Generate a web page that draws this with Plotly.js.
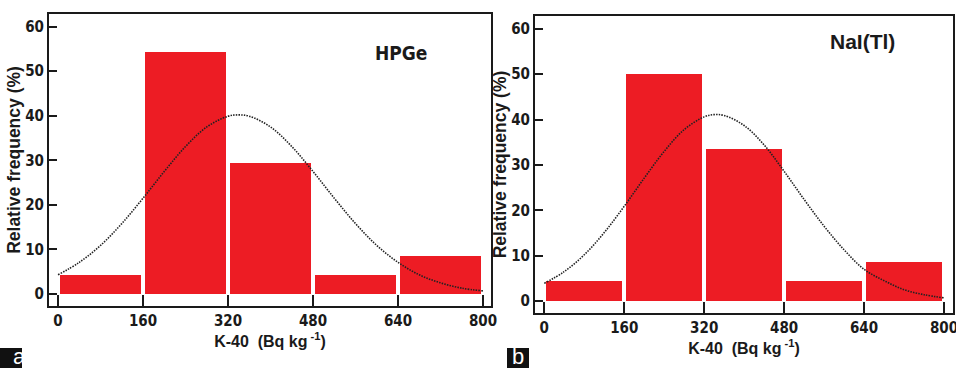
<!DOCTYPE html>
<html><head><meta charset="utf-8">
<script src="https://cdn.plot.ly/plotly-3.0.1.min.js"></script>
<style>html,body{margin:0;padding:0;background:#fff}#chart{width:956px;height:368px}</style>
</head><body><div id="chart"></div>
<script>
// Data
const binCenters = [80, 240, 400, 560, 720];
const hpgeFreq = [4.3, 54.4, 29.4, 4.3, 8.5];
const naiFreq = [4.4, 50.1, 33.5, 4.4, 8.5];
const curveX = [0, 40, 80, 120, 160, 200, 240, 280, 320, 340, 360, 400, 440, 480, 520, 560, 600, 640, 680, 720, 760, 800];
const hpgeCurve = [4.3, 7.1, 10.9, 15.8, 21.5, 27.5, 33.1, 37.5, 39.9, 40.2, 39.9, 37.5, 33.1, 27.5, 21.5, 15.8, 10.9, 7.1, 4.3, 2.5, 1.3, 0.7];
const naiCurve = [3.9, 6.5, 10.2, 15.1, 20.9, 27.1, 33.0, 37.8, 40.6, 41.1, 40.9, 38.7, 34.4, 28.6, 22.4, 16.5, 11.3, 7.0, 4.5, 2.5, 1.4, 0.7];
const xTicks = [0, 160, 320, 480, 640, 800];
const yTicks = [0, 10, 20, 30, 40, 50, 60];
const panelNames = ['HPGe', 'NaI(Tl)'];
const xTitle = 'K-40  (Bq kg<sup> -1</sup>)';
const yTitle = 'Relative frequency (%)';

const W = 956, H = 368;
const RED = '#ED1C24';
const narrow = '"DejaVu Sans Condensed", "Liberation Sans Narrow", "Liberation Sans", Arial, sans-serif';
const sans = '"Liberation Sans", Arial, sans-serif';

function barTrace(y, xa, ya) {
  return {type: 'bar', x: binCenters, y: y, width: 152, xaxis: xa, yaxis: ya,
    marker: {color: RED, line: {width: 0}}, hoverinfo: 'skip', showlegend: false};
}
function curveTrace(y, xa, ya) {
  return {type: 'scatter', mode: 'lines', x: curveX, y: y, xaxis: xa, yaxis: ya,
    line: {color: '#222', width: 1.6, dash: '1.5px,1.2px', shape: 'spline'}, hoverinfo: 'skip', showlegend: false};
}
const data = [
  barTrace(hpgeFreq, 'x', 'y'), curveTrace(hpgeCurve, 'x', 'y'),
  barTrace(naiFreq, 'x2', 'y2'), curveTrace(naiCurve, 'x2', 'y2')
];

function xax(d0, d1, range, anchor) {
  return {domain: [d0 / W, d1 / W], range: range, anchor: anchor,
    tickmode: 'array', tickvals: xTicks, ticktext: xTicks.map(String),
    ticks: 'inside', ticklen: 11, tickwidth: 2, tickcolor: '#1a1a1a',
    showline: true, linewidth: 2, linecolor: '#1a1a1a', mirror: true,
    showgrid: false, zeroline: false, ticklabeloverflow: 'allow',
    tickfont: {family: narrow, size: 15, color: '#1a1a1a', weight: 'bold'},
    title: {text: xTitle, font: {family: sans, size: 16, color: '#1a1a1a', weight: 'bold'}, standoff: 3},
    fixedrange: true};
}
function yax(top, bottom, range, anchor) {
  return {domain: [1 - bottom / H, 1 - top / H], range: range, anchor: anchor,
    tickmode: 'array', tickvals: yTicks, ticktext: yTicks.map(String),
    ticks: 'inside', ticklen: 8, tickwidth: 2, tickcolor: '#1a1a1a',
    showline: true, linewidth: 2, linecolor: '#1a1a1a', mirror: true,
    showgrid: false, zeroline: false,
    tickfont: {family: narrow, size: 15, color: '#1a1a1a', weight: 'bold'},
    title: {text: yTitle, font: {family: sans, size: 17.5, color: '#1a1a1a', weight: 'bold'}, standoff: 0},
    fixedrange: true};
}

const layout = {
  width: W, height: H, margin: {l: 0, r: 0, t: 0, b: 0},
  paper_bgcolor: '#fff', plot_bgcolor: '#fff', bargap: 0,
  xaxis: xax(49, 491, [-17, 815], 'y'),
  yaxis: yax(14, 306, [-2.7, 62.85], 'x'),
  xaxis2: xax(535, 953, [-18.6, 818], 'y2'),
  yaxis2: yax(15.7, 313.3, [-2.7, 62.9], 'x2'),
  annotations: [
    {text: panelNames[0], xref: 'x', yref: 'y', x: 645, y: 54, showarrow: false,
      font: {family: narrow, size: 19, color: '#1a1a1a', weight: 'bold'}},
    {text: panelNames[1], xref: 'x2', yref: 'y2', x: 637, y: 57.2, showarrow: false,
      font: {family: sans, size: 21, color: '#1a1a1a', weight: 'bold'}},
    {text: 'a', xref: 'paper', yref: 'paper', x: 11 / W, y: 0, yanchor: 'bottom', yshift: -3, showarrow: false,
      font: {family: sans, size: 22, color: '#fff'}},
    {text: 'b', xref: 'paper', yref: 'paper', x: 518 / W, y: 0, yanchor: 'bottom', yshift: -3, showarrow: false,
      font: {family: sans, size: 22, color: '#fff'}}
  ],
  shapes: [
    {type: 'rect', xref: 'paper', yref: 'paper', x0: 0, x1: 22 / W, y0: 0, y1: 20 / H,
      fillcolor: '#111', line: {width: 0}, layer: 'below'},
    {type: 'rect', xref: 'paper', yref: 'paper', x0: 507 / W, x1: 529 / W, y0: 0, y1: 20 / H,
      fillcolor: '#111', line: {width: 0}, layer: 'below'}
  ]
};
Plotly.newPlot('chart', data, layout, {staticPlot: true, displayModeBar: false});
</script></body></html>
